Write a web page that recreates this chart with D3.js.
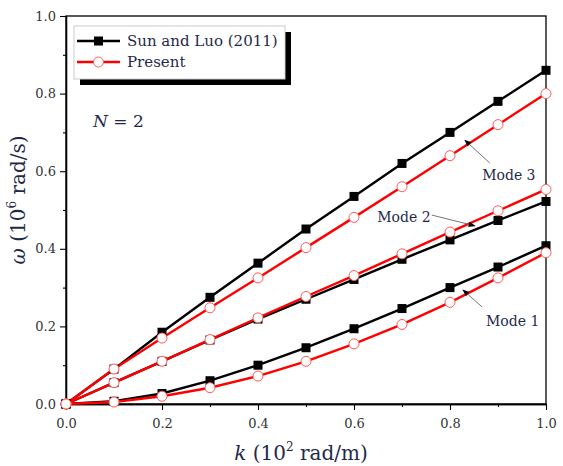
<!DOCTYPE html>
<html>
<head>
<meta charset="utf-8">
<script src="https://cdn.jsdelivr.net/npm/d3@7"></script>
<style>
  body { margin: 0; background: #fff; }
  svg text { font-family: "DejaVu Serif", "Liberation Serif", serif; }
</style>
</head>
<body>
<div class="chart"></div>
<script>
const kValues = [0, 0.1, 0.2, 0.3, 0.4, 0.5, 0.6, 0.7, 0.8, 0.9, 1.0];

const sunMode1 = [0, 0.007, 0.027, 0.06, 0.10, 0.145, 0.194, 0.246, 0.300, 0.353, 0.408];
const sunMode2 = [0, 0.055, 0.110, 0.165, 0.219, 0.270, 0.321, 0.373, 0.423, 0.473, 0.522];
const sunMode3 = [0, 0.090, 0.185, 0.275, 0.363, 0.451, 0.535, 0.620, 0.700, 0.780, 0.860];

const presMode1 = [0, 0.005, 0.020, 0.042, 0.072, 0.110, 0.155, 0.205, 0.262, 0.325, 0.390];
const presMode2 = [0, 0.055, 0.110, 0.166, 0.222, 0.277, 0.331, 0.387, 0.443, 0.498, 0.553];
const presMode3 = [0, 0.090, 0.170, 0.248, 0.325, 0.403, 0.481, 0.560, 0.640, 0.720, 0.800];

const majorTicks = [0, 0.2, 0.4, 0.6, 0.8, 1.0];
const minorTicks = [0.1, 0.3, 0.5, 0.7, 0.9];

const legendLabels = ["Sun and Luo (2011)", "Present"];
// label anchor (k, w) and arrow from (k1, w1) to (k2, w2), all in data units
const modeLabels = [
  { text: "Mode 3", anchor: "start",  k: 0.867, w: 0.577, k1: 0.883, w1: 0.621, k2: 0.831, w2: 0.680 },
  { text: "Mode 2", anchor: "middle", k: 0.704, w: 0.469, k1: 0.762, w1: 0.487, k2: 0.852, w2: 0.459 },
  { text: "Mode 1", anchor: "start",  k: 0.875, w: 0.201, k1: 0.867, w1: 0.250, k2: 0.827, w2: 0.294 }
];

const width = 563, height = 466;
const margin = { top: 16, right: 17, bottom: 62, left: 66 };
const innerW = width - margin.left - margin.right;
const innerH = height - margin.top - margin.bottom;
const textColor = "#1f2a4a";

const svg = d3.select(".chart").append("svg")
  .attr("width", width)
  .attr("height", height);

svg.append("defs").append("marker")
  .attr("id", "arrow")
  .attr("viewBox", "0 0 10 10")
  .attr("refX", 9).attr("refY", 5)
  .attr("markerWidth", 10).attr("markerHeight", 7)
  .attr("markerUnits", "userSpaceOnUse")
  .attr("orient", "auto")
  .append("path")
  .attr("d", "M0,1 L10,5 L0,9 z")
  .attr("fill", "#000");

const g = svg.append("g").attr("transform", `translate(${margin.left},${margin.top})`);

const x = d3.scaleLinear().domain([0, 1]).range([0, innerW]);
const y = d3.scaleLinear().domain([0, 1]).range([innerH, 0]);

// frame
g.append("rect")
  .attr("width", innerW).attr("height", innerH)
  .attr("fill", "none").attr("stroke", "#000").attr("stroke-width", 1.3);

// axes
const xAxis = g.append("g").attr("transform", `translate(0,${innerH})`)
  .call(d3.axisBottom(x).tickValues(majorTicks).tickFormat(d3.format(".1f")).tickSize(6).tickSizeOuter(0));
g.append("g").attr("transform", `translate(0,${innerH})`)
  .call(d3.axisBottom(x).tickValues(minorTicks).tickFormat("").tickSize(3).tickSizeOuter(0));
const yAxis = g.append("g")
  .call(d3.axisLeft(y).tickValues(majorTicks).tickFormat(d3.format(".1f")).tickSize(6).tickSizeOuter(0));
g.append("g")
  .call(d3.axisLeft(y).tickValues(minorTicks).tickFormat("").tickSize(3).tickSizeOuter(0));

g.selectAll(".domain").attr("stroke-width", 1.3);
g.selectAll(".tick line").attr("stroke-width", 1.1);
xAxis.selectAll("text").attr("font-size", 13).attr("fill", "#333").attr("dy", "1.15em");
yAxis.selectAll("text").attr("font-size", 13).attr("fill", "#333").attr("dx", "-1");

// axis titles
const xt = svg.append("text")
  .attr("x", margin.left + innerW / 2 - 5).attr("y", 460)
  .attr("text-anchor", "middle").attr("font-size", 20).attr("fill", textColor);
xt.append("tspan").attr("font-style", "italic").text("k");
xt.append("tspan").text(" (10");
xt.append("tspan").attr("font-size", 12).attr("dy", -9).text("2");
xt.append("tspan").attr("dy", 9).text(" rad/m)");

const yt = svg.append("text")
  .attr("transform", `translate(25,${margin.top + innerH / 2 - 10}) rotate(-90)`)
  .attr("text-anchor", "middle").attr("font-size", 20).attr("fill", textColor);
yt.append("tspan").attr("font-style", "italic").text("ω");
yt.append("tspan").text(" (10");
yt.append("tspan").attr("font-size", 12).attr("dy", -9).text("6");
yt.append("tspan").attr("dy", 9).text(" rad/s)");

// series
const line = d3.line().x((d, i) => x(kValues[i])).y(d => y(d));
const sunSeries = [sunMode1, sunMode2, sunMode3];
const presSeries = [presMode1, presMode2, presMode3];

sunSeries.forEach(s => {
  g.append("path").datum(s).attr("d", line)
    .attr("fill", "none").attr("stroke", "#000").attr("stroke-width", 2.4);
});
presSeries.forEach(s => {
  g.append("path").datum(s).attr("d", line)
    .attr("fill", "none").attr("stroke", "#f00").attr("stroke-width", 2.4);
});

sunSeries.forEach(s => {
  g.selectAll(null).data(s).enter().append("rect")
    .attr("x", (d, i) => x(kValues[i]) - 4.5)
    .attr("y", d => y(d) - 4.5)
    .attr("width", 9).attr("height", 9)
    .attr("fill", "#000");
});
presSeries.forEach(s => {
  g.selectAll(null).data(s).enter().append("circle")
    .attr("cx", (d, i) => x(kValues[i]))
    .attr("cy", d => y(d))
    .attr("r", 5)
    .attr("fill", "#fff").attr("stroke", "#ff5a5a").attr("stroke-width", 1);
});

// mode annotations
modeLabels.forEach(m => {
  g.append("line")
    .attr("x1", x(m.k1)).attr("y1", y(m.w1))
    .attr("x2", x(m.k2)).attr("y2", y(m.w2))
    .attr("stroke", "#666").attr("stroke-width", 0.9)
    .attr("marker-end", "url(#arrow)");
  g.append("text")
    .attr("x", x(m.k)).attr("y", y(m.w))
    .attr("text-anchor", m.anchor)
    .attr("font-size", 14).attr("fill", textColor)
    .text(m.text);
});

// N = 2
const nt = g.append("text").attr("x", 27).attr("y", 111)
  .attr("font-size", 17).attr("fill", textColor);
nt.append("tspan").attr("font-style", "italic").text("N");
nt.append("tspan").text(" = 2");

// legend
const lg = g.append("g").attr("transform", "translate(8,10)");
lg.append("rect").attr("x", 6).attr("y", 6).attr("width", 211).attr("height", 53).attr("fill", "#000");
lg.append("rect").attr("x", 0).attr("y", 0).attr("width", 211).attr("height", 53)
  .attr("fill", "#fff").attr("stroke", "#ccc").attr("stroke-width", 1);
legendLabels.forEach((lab, i) => {
  const yy = 15 + i * 21;
  lg.append("line").attr("x1", 3).attr("x2", 46).attr("y1", yy).attr("y2", yy)
    .attr("stroke", i === 0 ? "#000" : "#f00").attr("stroke-width", 2.4);
  if (i === 0) {
    lg.append("rect").attr("x", 20).attr("y", yy - 4.5).attr("width", 9).attr("height", 9).attr("fill", "#000");
  } else {
    lg.append("circle").attr("cx", 24.5).attr("cy", yy).attr("r", 5)
      .attr("fill", "#fff").attr("stroke", "#ff5a5a").attr("stroke-width", 1);
  }
  lg.append("text").attr("x", 53).attr("y", yy + 5)
    .attr("font-size", 15).attr("fill", textColor).text(lab);
});
</script>
</body>
</html>
